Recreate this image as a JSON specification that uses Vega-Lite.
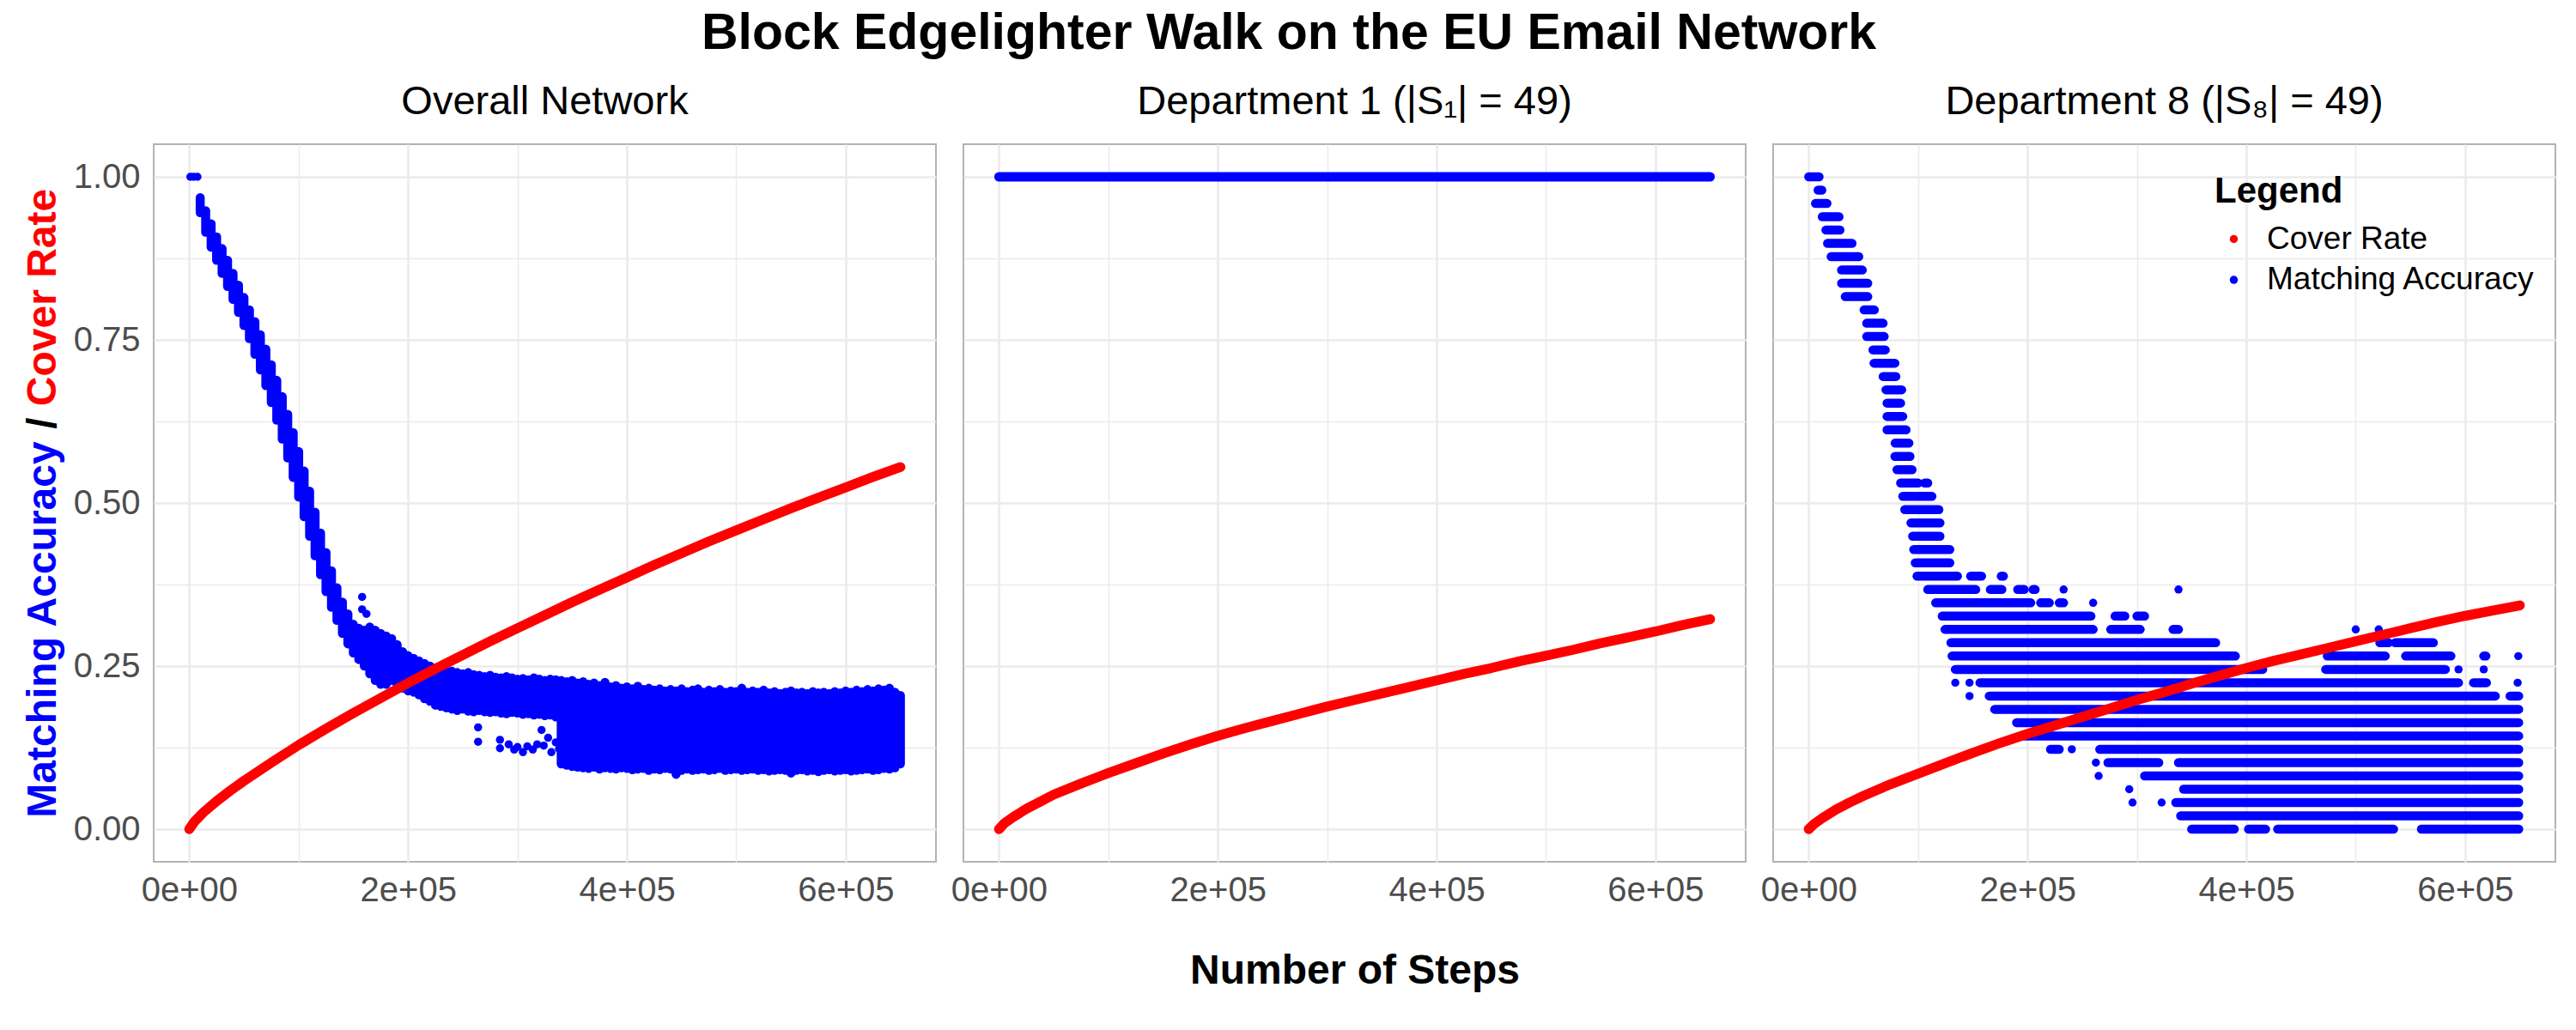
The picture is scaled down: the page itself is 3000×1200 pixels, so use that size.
{
  "$schema": "https://vega.github.io/schema/vega-lite/v6.json",
  "background": "white",
  "padding": {"left": 25, "top": 10, "right": 5, "bottom": 5},
  "title": {"text": "Block Edgelighter Walk on the EU Email Network", "fontSize": 59, "fontWeight": "bold", "font": "Liberation Sans", "color": "#000000", "anchor": "middle", "frame": "bounds", "baseline": "alphabetic", "offset": -22},
  "spacing": 15,
  "resolve": {"scale": {"color": "independent"}},
  "config": {
    "font": "Liberation Sans",
    "view": {"stroke": "#b3b3b3", "strokeWidth": 2},
    "axis": {"ticks": false, "tickSize": 0, "domain": false, "labelFontSize": 40, "labelColor": "#4d4d4d", "gridColor": "#ebebeb", "labelFlush": false, "labelOverlap": false, "labelBound": false, "labelFont": "Liberation Sans", "titleFont": "Liberation Sans"}
  },
  "datasets": {
    "redA": [
      {"x": 0, "y": 0, "s": "Cover Rate"}, {"x": 5000, "y": 0.012, "s": "Cover Rate"}, {"x": 12500, "y": 0.025, "s": "Cover Rate"}, {"x": 25000, "y": 0.043, "s": "Cover Rate"}, {"x": 37500, "y": 0.059, "s": "Cover Rate"}, {"x": 50000, "y": 0.074, "s": "Cover Rate"}, {"x": 75000, "y": 0.102, "s": "Cover Rate"}, {"x": 100000, "y": 0.129, "s": "Cover Rate"}, {"x": 125000, "y": 0.154, "s": "Cover Rate"}, {"x": 150000, "y": 0.178, "s": "Cover Rate"}, {"x": 175000, "y": 0.201, "s": "Cover Rate"}, {"x": 200000, "y": 0.224, "s": "Cover Rate"}, {"x": 225000, "y": 0.246, "s": "Cover Rate"}, {"x": 250000, "y": 0.267, "s": "Cover Rate"}, {"x": 275000, "y": 0.288, "s": "Cover Rate"}, {"x": 300000, "y": 0.308, "s": "Cover Rate"}, {"x": 325000, "y": 0.328, "s": "Cover Rate"}, {"x": 350000, "y": 0.348, "s": "Cover Rate"}, {"x": 375000, "y": 0.367, "s": "Cover Rate"}, {"x": 400000, "y": 0.386, "s": "Cover Rate"}, {"x": 425000, "y": 0.405, "s": "Cover Rate"}, {"x": 450000, "y": 0.423, "s": "Cover Rate"}, {"x": 475000, "y": 0.441, "s": "Cover Rate"}, {"x": 500000, "y": 0.458, "s": "Cover Rate"}, {"x": 525000, "y": 0.475, "s": "Cover Rate"}, {"x": 550000, "y": 0.492, "s": "Cover Rate"}, {"x": 575000, "y": 0.508, "s": "Cover Rate"}, {"x": 600000, "y": 0.524, "s": "Cover Rate"}, {"x": 625000, "y": 0.54, "s": "Cover Rate"}, {"x": 650000, "y": 0.555, "s": "Cover Rate"}
    ],
    "redB": [
      {"x": 0, "y": 0, "s": "Cover Rate"}, {"x": 5000, "y": 0.009, "s": "Cover Rate"}, {"x": 12500, "y": 0.018, "s": "Cover Rate"}, {"x": 25000, "y": 0.031, "s": "Cover Rate"}, {"x": 37500, "y": 0.042, "s": "Cover Rate"}, {"x": 50000, "y": 0.053, "s": "Cover Rate"}, {"x": 75000, "y": 0.07, "s": "Cover Rate"}, {"x": 100000, "y": 0.086, "s": "Cover Rate"}, {"x": 125000, "y": 0.101, "s": "Cover Rate"}, {"x": 150000, "y": 0.116, "s": "Cover Rate"}, {"x": 175000, "y": 0.13, "s": "Cover Rate"}, {"x": 200000, "y": 0.143, "s": "Cover Rate"}, {"x": 225000, "y": 0.155, "s": "Cover Rate"}, {"x": 250000, "y": 0.166, "s": "Cover Rate"}, {"x": 275000, "y": 0.177, "s": "Cover Rate"}, {"x": 300000, "y": 0.188, "s": "Cover Rate"}, {"x": 325000, "y": 0.198, "s": "Cover Rate"}, {"x": 350000, "y": 0.208, "s": "Cover Rate"}, {"x": 375000, "y": 0.218, "s": "Cover Rate"}, {"x": 400000, "y": 0.228, "s": "Cover Rate"}, {"x": 425000, "y": 0.238, "s": "Cover Rate"}, {"x": 450000, "y": 0.247, "s": "Cover Rate"}, {"x": 475000, "y": 0.257, "s": "Cover Rate"}, {"x": 500000, "y": 0.266, "s": "Cover Rate"}, {"x": 525000, "y": 0.275, "s": "Cover Rate"}, {"x": 550000, "y": 0.285, "s": "Cover Rate"}, {"x": 575000, "y": 0.294, "s": "Cover Rate"}, {"x": 600000, "y": 0.303, "s": "Cover Rate"}, {"x": 625000, "y": 0.313, "s": "Cover Rate"}, {"x": 650000, "y": 0.322, "s": "Cover Rate"}
    ],
    "redC": [
      {"x": 0, "y": 0, "s": "Cover Rate"}, {"x": 5000, "y": 0.008, "s": "Cover Rate"}, {"x": 12500, "y": 0.017, "s": "Cover Rate"}, {"x": 25000, "y": 0.03, "s": "Cover Rate"}, {"x": 37500, "y": 0.041, "s": "Cover Rate"}, {"x": 50000, "y": 0.051, "s": "Cover Rate"}, {"x": 75000, "y": 0.069, "s": "Cover Rate"}, {"x": 100000, "y": 0.085, "s": "Cover Rate"}, {"x": 125000, "y": 0.101, "s": "Cover Rate"}, {"x": 150000, "y": 0.117, "s": "Cover Rate"}, {"x": 175000, "y": 0.132, "s": "Cover Rate"}, {"x": 200000, "y": 0.146, "s": "Cover Rate"}, {"x": 225000, "y": 0.159, "s": "Cover Rate"}, {"x": 250000, "y": 0.172, "s": "Cover Rate"}, {"x": 275000, "y": 0.185, "s": "Cover Rate"}, {"x": 300000, "y": 0.198, "s": "Cover Rate"}, {"x": 325000, "y": 0.21, "s": "Cover Rate"}, {"x": 350000, "y": 0.223, "s": "Cover Rate"}, {"x": 375000, "y": 0.235, "s": "Cover Rate"}, {"x": 400000, "y": 0.247, "s": "Cover Rate"}, {"x": 425000, "y": 0.258, "s": "Cover Rate"}, {"x": 450000, "y": 0.268, "s": "Cover Rate"}, {"x": 475000, "y": 0.278, "s": "Cover Rate"}, {"x": 500000, "y": 0.288, "s": "Cover Rate"}, {"x": 525000, "y": 0.298, "s": "Cover Rate"}, {"x": 550000, "y": 0.308, "s": "Cover Rate"}, {"x": 575000, "y": 0.318, "s": "Cover Rate"}, {"x": 600000, "y": 0.327, "s": "Cover Rate"}, {"x": 625000, "y": 0.335, "s": "Cover Rate"}, {"x": 650000, "y": 0.343, "s": "Cover Rate"}
    ],
    "lineB": [
      {"x": 0, "y": 1, "s": "Matching Accuracy"}, {"x": 650000, "y": 1, "s": "Matching Accuracy"}
    ],
    "dotsA": [
      {"x": 1000, "y": 1, "s": "Matching Accuracy"}, {"x": 4000, "y": 1, "s": "Matching Accuracy"}, {"x": 7500, "y": 1, "s": "Matching Accuracy"},
      {"x": 158000, "y": 0.356, "s": "Matching Accuracy"}, {"x": 158000, "y": 0.337, "s": "Matching Accuracy"}, {"x": 162000, "y": 0.33, "s": "Matching Accuracy"},
      {"x": 264000, "y": 0.156, "s": "Matching Accuracy"}, {"x": 264000, "y": 0.134, "s": "Matching Accuracy"}, {"x": 284000, "y": 0.137, "s": "Matching Accuracy"}, {"x": 284000, "y": 0.124, "s": "Matching Accuracy"},
      {"x": 292000, "y": 0.13, "s": "Matching Accuracy"}, {"x": 297000, "y": 0.122, "s": "Matching Accuracy"}, {"x": 300000, "y": 0.126, "s": "Matching Accuracy"}, {"x": 305000, "y": 0.118, "s": "Matching Accuracy"}, {"x": 309000, "y": 0.127, "s": "Matching Accuracy"}, {"x": 314000, "y": 0.122, "s": "Matching Accuracy"}, {"x": 318000, "y": 0.13, "s": "Matching Accuracy"},
      {"x": 322000, "y": 0.152, "s": "Matching Accuracy"}, {"x": 324000, "y": 0.128, "s": "Matching Accuracy"}, {"x": 328000, "y": 0.14, "s": "Matching Accuracy"}, {"x": 331000, "y": 0.118, "s": "Matching Accuracy"}, {"x": 335000, "y": 0.133, "s": "Matching Accuracy"}, {"x": 338000, "y": 0.123, "s": "Matching Accuracy"}
    ],
    "bandA": [
      {"x": 10000, "lo": 0.945, "hi": 0.968, "s": "Matching Accuracy"}, {"x": 15000, "lo": 0.915, "hi": 0.948, "s": "Matching Accuracy"}, {"x": 20000, "lo": 0.892, "hi": 0.928, "s": "Matching Accuracy"}, {"x": 25000, "lo": 0.872, "hi": 0.908, "s": "Matching Accuracy"}, {"x": 30000, "lo": 0.852, "hi": 0.89, "s": "Matching Accuracy"}, {"x": 35000, "lo": 0.832, "hi": 0.872, "s": "Matching Accuracy"}, {"x": 40000, "lo": 0.812, "hi": 0.852, "s": "Matching Accuracy"}, {"x": 45000, "lo": 0.792, "hi": 0.834, "s": "Matching Accuracy"}, {"x": 50000, "lo": 0.772, "hi": 0.815, "s": "Matching Accuracy"}, {"x": 55000, "lo": 0.752, "hi": 0.796, "s": "Matching Accuracy"},
      {"x": 60000, "lo": 0.728, "hi": 0.778, "s": "Matching Accuracy"}, {"x": 65000, "lo": 0.704, "hi": 0.758, "s": "Matching Accuracy"}, {"x": 70000, "lo": 0.68, "hi": 0.736, "s": "Matching Accuracy"}, {"x": 75000, "lo": 0.654, "hi": 0.712, "s": "Matching Accuracy"}, {"x": 80000, "lo": 0.627, "hi": 0.688, "s": "Matching Accuracy"}, {"x": 85000, "lo": 0.598, "hi": 0.663, "s": "Matching Accuracy"}, {"x": 90000, "lo": 0.569, "hi": 0.636, "s": "Matching Accuracy"}, {"x": 95000, "lo": 0.539, "hi": 0.608, "s": "Matching Accuracy"}, {"x": 100000, "lo": 0.509, "hi": 0.579, "s": "Matching Accuracy"}, {"x": 105000, "lo": 0.479, "hi": 0.549, "s": "Matching Accuracy"},
      {"x": 110000, "lo": 0.449, "hi": 0.518, "s": "Matching Accuracy"}, {"x": 115000, "lo": 0.419, "hi": 0.486, "s": "Matching Accuracy"}, {"x": 120000, "lo": 0.39, "hi": 0.454, "s": "Matching Accuracy"}, {"x": 125000, "lo": 0.364, "hi": 0.424, "s": "Matching Accuracy"}, {"x": 130000, "lo": 0.34, "hi": 0.396, "s": "Matching Accuracy"}, {"x": 135000, "lo": 0.32, "hi": 0.37, "s": "Matching Accuracy"}, {"x": 140000, "lo": 0.3, "hi": 0.348, "s": "Matching Accuracy"}, {"x": 145000, "lo": 0.284, "hi": 0.33, "s": "Matching Accuracy"}, {"x": 150000, "lo": 0.27, "hi": 0.314, "s": "Matching Accuracy"}, {"x": 155000, "lo": 0.26, "hi": 0.308, "s": "Matching Accuracy"},
      {"x": 160000, "lo": 0.25, "hi": 0.305, "s": "Matching Accuracy"}, {"x": 165000, "lo": 0.238, "hi": 0.31, "s": "Matching Accuracy"}, {"x": 170000, "lo": 0.228, "hi": 0.305, "s": "Matching Accuracy"}, {"x": 175000, "lo": 0.222, "hi": 0.3, "s": "Matching Accuracy"}, {"x": 180000, "lo": 0.222, "hi": 0.296, "s": "Matching Accuracy"}, {"x": 185000, "lo": 0.228, "hi": 0.292, "s": "Matching Accuracy"}, {"x": 190000, "lo": 0.222, "hi": 0.283, "s": "Matching Accuracy"}, {"x": 195000, "lo": 0.216, "hi": 0.272, "s": "Matching Accuracy"}, {"x": 200000, "lo": 0.212, "hi": 0.266, "s": "Matching Accuracy"}, {"x": 205000, "lo": 0.21, "hi": 0.262, "s": "Matching Accuracy"},
      {"x": 210000, "lo": 0.206, "hi": 0.258, "s": "Matching Accuracy"}, {"x": 215000, "lo": 0.2, "hi": 0.254, "s": "Matching Accuracy"}, {"x": 220000, "lo": 0.196, "hi": 0.25, "s": "Matching Accuracy"}, {"x": 225000, "lo": 0.19, "hi": 0.247, "s": "Matching Accuracy"}, {"x": 230000, "lo": 0.188, "hi": 0.245, "s": "Matching Accuracy"}, {"x": 235000, "lo": 0.186, "hi": 0.243, "s": "Matching Accuracy"}, {"x": 240000, "lo": 0.184, "hi": 0.242, "s": "Matching Accuracy"}, {"x": 245000, "lo": 0.182, "hi": 0.24, "s": "Matching Accuracy"}, {"x": 250000, "lo": 0.184, "hi": 0.238, "s": "Matching Accuracy"}, {"x": 255000, "lo": 0.181, "hi": 0.24, "s": "Matching Accuracy"},
      {"x": 260000, "lo": 0.18, "hi": 0.237, "s": "Matching Accuracy"}, {"x": 265000, "lo": 0.182, "hi": 0.236, "s": "Matching Accuracy"}, {"x": 270000, "lo": 0.18, "hi": 0.234, "s": "Matching Accuracy"}, {"x": 275000, "lo": 0.179, "hi": 0.236, "s": "Matching Accuracy"}, {"x": 280000, "lo": 0.18, "hi": 0.233, "s": "Matching Accuracy"}, {"x": 285000, "lo": 0.178, "hi": 0.232, "s": "Matching Accuracy"}, {"x": 290000, "lo": 0.177, "hi": 0.234, "s": "Matching Accuracy"}, {"x": 295000, "lo": 0.179, "hi": 0.232, "s": "Matching Accuracy"}, {"x": 300000, "lo": 0.178, "hi": 0.23, "s": "Matching Accuracy"}, {"x": 305000, "lo": 0.176, "hi": 0.231, "s": "Matching Accuracy"},
      {"x": 310000, "lo": 0.177, "hi": 0.229, "s": "Matching Accuracy"}, {"x": 315000, "lo": 0.175, "hi": 0.232, "s": "Matching Accuracy"}, {"x": 320000, "lo": 0.176, "hi": 0.23, "s": "Matching Accuracy"}, {"x": 325000, "lo": 0.174, "hi": 0.228, "s": "Matching Accuracy"}, {"x": 330000, "lo": 0.175, "hi": 0.23, "s": "Matching Accuracy"}, {"x": 335000, "lo": 0.172, "hi": 0.229, "s": "Matching Accuracy"}, {"x": 340000, "lo": 0.1, "hi": 0.228, "s": "Matching Accuracy"}, {"x": 345000, "lo": 0.098, "hi": 0.226, "s": "Matching Accuracy"}, {"x": 350000, "lo": 0.096, "hi": 0.228, "s": "Matching Accuracy"}, {"x": 355000, "lo": 0.095, "hi": 0.224, "s": "Matching Accuracy"},
      {"x": 360000, "lo": 0.094, "hi": 0.226, "s": "Matching Accuracy"}, {"x": 365000, "lo": 0.093, "hi": 0.222, "s": "Matching Accuracy"}, {"x": 370000, "lo": 0.095, "hi": 0.224, "s": "Matching Accuracy"}, {"x": 375000, "lo": 0.092, "hi": 0.22, "s": "Matching Accuracy"}, {"x": 380000, "lo": 0.094, "hi": 0.225, "s": "Matching Accuracy"}, {"x": 385000, "lo": 0.093, "hi": 0.218, "s": "Matching Accuracy"}, {"x": 390000, "lo": 0.092, "hi": 0.22, "s": "Matching Accuracy"}, {"x": 395000, "lo": 0.094, "hi": 0.216, "s": "Matching Accuracy"}, {"x": 400000, "lo": 0.093, "hi": 0.218, "s": "Matching Accuracy"}, {"x": 405000, "lo": 0.091, "hi": 0.215, "s": "Matching Accuracy"},
      {"x": 410000, "lo": 0.092, "hi": 0.219, "s": "Matching Accuracy"}, {"x": 415000, "lo": 0.093, "hi": 0.214, "s": "Matching Accuracy"}, {"x": 420000, "lo": 0.09, "hi": 0.216, "s": "Matching Accuracy"}, {"x": 425000, "lo": 0.092, "hi": 0.213, "s": "Matching Accuracy"}, {"x": 430000, "lo": 0.091, "hi": 0.215, "s": "Matching Accuracy"}, {"x": 435000, "lo": 0.093, "hi": 0.212, "s": "Matching Accuracy"}, {"x": 440000, "lo": 0.092, "hi": 0.214, "s": "Matching Accuracy"}, {"x": 445000, "lo": 0.084, "hi": 0.212, "s": "Matching Accuracy"}, {"x": 450000, "lo": 0.09, "hi": 0.215, "s": "Matching Accuracy"}, {"x": 455000, "lo": 0.092, "hi": 0.211, "s": "Matching Accuracy"},
      {"x": 460000, "lo": 0.09, "hi": 0.213, "s": "Matching Accuracy"}, {"x": 465000, "lo": 0.091, "hi": 0.215, "s": "Matching Accuracy"}, {"x": 470000, "lo": 0.092, "hi": 0.21, "s": "Matching Accuracy"}, {"x": 475000, "lo": 0.09, "hi": 0.213, "s": "Matching Accuracy"}, {"x": 480000, "lo": 0.091, "hi": 0.211, "s": "Matching Accuracy"}, {"x": 485000, "lo": 0.093, "hi": 0.214, "s": "Matching Accuracy"}, {"x": 490000, "lo": 0.09, "hi": 0.21, "s": "Matching Accuracy"}, {"x": 495000, "lo": 0.091, "hi": 0.212, "s": "Matching Accuracy"}, {"x": 500000, "lo": 0.092, "hi": 0.211, "s": "Matching Accuracy"}, {"x": 505000, "lo": 0.09, "hi": 0.216, "s": "Matching Accuracy"},
      {"x": 510000, "lo": 0.091, "hi": 0.21, "s": "Matching Accuracy"}, {"x": 515000, "lo": 0.092, "hi": 0.212, "s": "Matching Accuracy"}, {"x": 520000, "lo": 0.09, "hi": 0.21, "s": "Matching Accuracy"}, {"x": 525000, "lo": 0.091, "hi": 0.213, "s": "Matching Accuracy"}, {"x": 530000, "lo": 0.089, "hi": 0.209, "s": "Matching Accuracy"}, {"x": 535000, "lo": 0.09, "hi": 0.211, "s": "Matching Accuracy"}, {"x": 540000, "lo": 0.091, "hi": 0.208, "s": "Matching Accuracy"}, {"x": 545000, "lo": 0.09, "hi": 0.21, "s": "Matching Accuracy"}, {"x": 550000, "lo": 0.086, "hi": 0.212, "s": "Matching Accuracy"}, {"x": 555000, "lo": 0.09, "hi": 0.209, "s": "Matching Accuracy"},
      {"x": 560000, "lo": 0.091, "hi": 0.21, "s": "Matching Accuracy"}, {"x": 565000, "lo": 0.089, "hi": 0.208, "s": "Matching Accuracy"}, {"x": 570000, "lo": 0.09, "hi": 0.211, "s": "Matching Accuracy"}, {"x": 575000, "lo": 0.088, "hi": 0.209, "s": "Matching Accuracy"}, {"x": 580000, "lo": 0.09, "hi": 0.21, "s": "Matching Accuracy"}, {"x": 585000, "lo": 0.091, "hi": 0.208, "s": "Matching Accuracy"}, {"x": 590000, "lo": 0.089, "hi": 0.211, "s": "Matching Accuracy"}, {"x": 595000, "lo": 0.09, "hi": 0.209, "s": "Matching Accuracy"}, {"x": 600000, "lo": 0.091, "hi": 0.212, "s": "Matching Accuracy"}, {"x": 605000, "lo": 0.089, "hi": 0.21, "s": "Matching Accuracy"},
      {"x": 610000, "lo": 0.09, "hi": 0.213, "s": "Matching Accuracy"}, {"x": 615000, "lo": 0.091, "hi": 0.211, "s": "Matching Accuracy"}, {"x": 620000, "lo": 0.092, "hi": 0.214, "s": "Matching Accuracy"}, {"x": 625000, "lo": 0.09, "hi": 0.212, "s": "Matching Accuracy"}, {"x": 630000, "lo": 0.091, "hi": 0.215, "s": "Matching Accuracy"}, {"x": 635000, "lo": 0.093, "hi": 0.213, "s": "Matching Accuracy"}, {"x": 640000, "lo": 0.092, "hi": 0.216, "s": "Matching Accuracy"}, {"x": 645000, "lo": 0.094, "hi": 0.21, "s": "Matching Accuracy"}, {"x": 650000, "lo": 0.1, "hi": 0.205, "s": "Matching Accuracy"}
    ],
    "segC": [
      {"x": 0, "x2": 9500, "y": 1, "s": "Matching Accuracy"}, {"x": 8600, "x2": 12000, "y": 0.9796, "s": "Matching Accuracy"}, {"x": 6200, "x2": 16700, "y": 0.9592, "s": "Matching Accuracy"}, {"x": 12400, "x2": 27700, "y": 0.9388, "s": "Matching Accuracy"}, {"x": 15700, "x2": 28600, "y": 0.9184, "s": "Matching Accuracy"}, {"x": 17200, "x2": 39600, "y": 0.898, "s": "Matching Accuracy"}, {"x": 20500, "x2": 45800, "y": 0.8776, "s": "Matching Accuracy"}, {"x": 30000, "x2": 49000, "y": 0.8571, "s": "Matching Accuracy"}, {"x": 30000, "x2": 54000, "y": 0.8367, "s": "Matching Accuracy"}, {"x": 33400, "x2": 54000, "y": 0.8163, "s": "Matching Accuracy"},
      {"x": 50600, "x2": 60000, "y": 0.7959, "s": "Matching Accuracy"}, {"x": 53000, "x2": 68000, "y": 0.7755, "s": "Matching Accuracy"}, {"x": 53000, "x2": 69000, "y": 0.7551, "s": "Matching Accuracy"}, {"x": 58700, "x2": 70000, "y": 0.7347, "s": "Matching Accuracy"}, {"x": 59700, "x2": 78800, "y": 0.7143, "s": "Matching Accuracy"}, {"x": 68000, "x2": 79700, "y": 0.6939, "s": "Matching Accuracy"}, {"x": 70600, "x2": 85000, "y": 0.6735, "s": "Matching Accuracy"}, {"x": 71600, "x2": 84000, "y": 0.6531, "s": "Matching Accuracy"}, {"x": 71600, "x2": 86000, "y": 0.6327, "s": "Matching Accuracy"}, {"x": 71600, "x2": 89000, "y": 0.6122, "s": "Matching Accuracy"},
      {"x": 79000, "x2": 91600, "y": 0.5918, "s": "Matching Accuracy"}, {"x": 78800, "x2": 92600, "y": 0.5714, "s": "Matching Accuracy"}, {"x": 80700, "x2": 94500, "y": 0.551, "s": "Matching Accuracy"}, {"x": 84000, "x2": 100000, "y": 0.5306, "s": "Matching Accuracy"}, {"x": 106000, "x2": 108800, "y": 0.5306, "s": "Matching Accuracy"}, {"x": 86000, "x2": 112600, "y": 0.5102, "s": "Matching Accuracy"}, {"x": 87800, "x2": 119000, "y": 0.4898, "s": "Matching Accuracy"}, {"x": 93500, "x2": 120000, "y": 0.4694, "s": "Matching Accuracy"}, {"x": 95000, "x2": 120000, "y": 0.449, "s": "Matching Accuracy"}, {"x": 96000, "x2": 129000, "y": 0.4286, "s": "Matching Accuracy"},
      {"x": 97400, "x2": 129000, "y": 0.4082, "s": "Matching Accuracy"}, {"x": 99000, "x2": 136000, "y": 0.3878, "s": "Matching Accuracy"}, {"x": 148000, "x2": 158000, "y": 0.3878, "s": "Matching Accuracy"}, {"x": 176000, "x2": 178000, "y": 0.3878, "s": "Matching Accuracy"}, {"x": 108800, "x2": 152700, "y": 0.3673, "s": "Matching Accuracy"}, {"x": 166000, "x2": 176600, "y": 0.3673, "s": "Matching Accuracy"}, {"x": 191000, "x2": 197000, "y": 0.3673, "s": "Matching Accuracy"}, {"x": 205000, "x2": 207000, "y": 0.3673, "s": "Matching Accuracy"}, {"x": 116000, "x2": 203000, "y": 0.3469, "s": "Matching Accuracy"}, {"x": 212000, "x2": 220000, "y": 0.3469, "s": "Matching Accuracy"},
      {"x": 229000, "x2": 233000, "y": 0.3469, "s": "Matching Accuracy"}, {"x": 122000, "x2": 258000, "y": 0.3265, "s": "Matching Accuracy"}, {"x": 280000, "x2": 289000, "y": 0.3265, "s": "Matching Accuracy"}, {"x": 300000, "x2": 307000, "y": 0.3265, "s": "Matching Accuracy"}, {"x": 124600, "x2": 260000, "y": 0.3061, "s": "Matching Accuracy"}, {"x": 276000, "x2": 303000, "y": 0.3061, "s": "Matching Accuracy"}, {"x": 333000, "x2": 338000, "y": 0.3061, "s": "Matching Accuracy"}, {"x": 130000, "x2": 372000, "y": 0.2857, "s": "Matching Accuracy"}, {"x": 522000, "x2": 530000, "y": 0.2857, "s": "Matching Accuracy"}, {"x": 536000, "x2": 571000, "y": 0.2857, "s": "Matching Accuracy"},
      {"x": 131000, "x2": 390000, "y": 0.2653, "s": "Matching Accuracy"}, {"x": 474000, "x2": 527000, "y": 0.2653, "s": "Matching Accuracy"}, {"x": 545600, "x2": 587000, "y": 0.2653, "s": "Matching Accuracy"}, {"x": 617000, "x2": 619000, "y": 0.2653, "s": "Matching Accuracy"}, {"x": 134000, "x2": 415000, "y": 0.2449, "s": "Matching Accuracy"}, {"x": 472500, "x2": 582000, "y": 0.2449, "s": "Matching Accuracy"}, {"x": 156500, "x2": 594000, "y": 0.2245, "s": "Matching Accuracy"}, {"x": 607600, "x2": 619500, "y": 0.2245, "s": "Matching Accuracy"}, {"x": 165000, "x2": 627600, "y": 0.2041, "s": "Matching Accuracy"}, {"x": 641000, "x2": 649000, "y": 0.2041, "s": "Matching Accuracy"},
      {"x": 170000, "x2": 649000, "y": 0.1837, "s": "Matching Accuracy"}, {"x": 190000, "x2": 649000, "y": 0.1633, "s": "Matching Accuracy"}, {"x": 195000, "x2": 649000, "y": 0.1429, "s": "Matching Accuracy"}, {"x": 221000, "x2": 229000, "y": 0.1224, "s": "Matching Accuracy"}, {"x": 266000, "x2": 649000, "y": 0.1224, "s": "Matching Accuracy"}, {"x": 273500, "x2": 320000, "y": 0.102, "s": "Matching Accuracy"}, {"x": 338000, "x2": 649000, "y": 0.102, "s": "Matching Accuracy"}, {"x": 307000, "x2": 649000, "y": 0.0816, "s": "Matching Accuracy"}, {"x": 342700, "x2": 649000, "y": 0.0612, "s": "Matching Accuracy"}, {"x": 335500, "x2": 649000, "y": 0.0408, "s": "Matching Accuracy"},
      {"x": 340000, "x2": 649000, "y": 0.0204, "s": "Matching Accuracy"}, {"x": 350000, "x2": 389000, "y": 0, "s": "Matching Accuracy"}, {"x": 402000, "x2": 417600, "y": 0, "s": "Matching Accuracy"}, {"x": 428600, "x2": 534600, "y": 0, "s": "Matching Accuracy"}, {"x": 560000, "x2": 649000, "y": 0, "s": "Matching Accuracy"}
    ],
    "dotsC": [
      {"x": 233000, "y": 0.3673, "s": "Matching Accuracy"}, {"x": 338000, "y": 0.3673, "s": "Matching Accuracy"}, {"x": 260000, "y": 0.3469, "s": "Matching Accuracy"}, {"x": 500000, "y": 0.3061, "s": "Matching Accuracy"}, {"x": 521000, "y": 0.3061, "s": "Matching Accuracy"}, {"x": 648600, "y": 0.2653, "s": "Matching Accuracy"}, {"x": 594000, "y": 0.2449, "s": "Matching Accuracy"}, {"x": 617000, "y": 0.2449, "s": "Matching Accuracy"}, {"x": 134000, "y": 0.2245, "s": "Matching Accuracy"}, {"x": 147000, "y": 0.2245, "s": "Matching Accuracy"}, {"x": 648000, "y": 0.2245, "s": "Matching Accuracy"}, {"x": 147000, "y": 0.2041, "s": "Matching Accuracy"}, {"x": 240500, "y": 0.1224, "s": "Matching Accuracy"}, {"x": 262500, "y": 0.102, "s": "Matching Accuracy"}, {"x": 265000, "y": 0.0816, "s": "Matching Accuracy"}, {"x": 293000, "y": 0.0612, "s": "Matching Accuracy"}, {"x": 296000, "y": 0.0408, "s": "Matching Accuracy"}, {"x": 322600, "y": 0.0408, "s": "Matching Accuracy"}
    ]
  },
  "hconcat": [
    {
      "width": 911, "height": 836,
      "title": {"text": "Overall Network", "fontSize": 47, "fontWeight": "normal", "font": "Liberation Sans", "color": "#000000", "baseline": "alphabetic", "offset": -12, "anchor": "middle", "frame": "group"},
      "encoding": {
        "x": {"field": "x", "type": "quantitative", "scale": {"domain": [-32500, 682500], "nice": false, "zero": false},
          "axis": {"values": [0, 100000, 200000, 300000, 400000, 500000, 600000], "labelExpr": "datum.value === 0 ? '0e+00' : (datum.value % 200000 === 0 ? (datum.value / 100000) + 'e+05' : '')", "gridWidth": {"condition": {"test": "datum.value % 200000 === 0", "value": 2.6}, "value": 1.5}, "labelPadding": 13, "title": null}}
      },
      "layer": [
        {
          "data": {"name": "bandA"},
          "mark": {"type": "rule", "strokeWidth": 10.5, "strokeCap": "round"},
          "encoding": {
            "y": {"field": "lo", "type": "quantitative", "scale": {"domain": [-0.05, 1.05], "nice": false, "zero": false},
              "axis": {"orient": "left", "values": [0, 0.125, 0.25, 0.375, 0.5, 0.625, 0.75, 0.875, 1], "labelExpr": "(datum.value * 4) % 1 === 0 ? format(datum.value, '.2f') : ''", "gridWidth": {"condition": {"test": "(datum.value * 4) % 1 === 0", "value": 2.6}, "value": 1.5}, "labelPadding": 16,
                "title": "Matching Accuracy", "titleColor": "#0000ff", "titleFontSize": 48, "titleFontWeight": "bold", "titleAngle": 270, "titleAlign": "center", "titleBaseline": "alphabetic", "titleX": -115, "titleY": 565}},
            "y2": {"field": "hi"},
            "color": {"field": "s", "type": "nominal", "scale": {"domain": ["Cover Rate", "Matching Accuracy"], "range": ["#ff0000", "#0000ff"]}, "legend": null}
          }
        },
        {
          "data": {"name": "dotsA"},
          "mark": {"type": "circle", "size": 90, "opacity": 1},
          "encoding": {
            "y": {"field": "y", "type": "quantitative", "scale": {"domain": [-0.05, 1.05], "nice": false, "zero": false},
              "axis": {"orient": "left", "labels": false, "grid": false, "title": "/", "titleColor": "#000000", "titleFontSize": 48, "titleFontWeight": "bold", "titleAngle": 270, "titleAlign": "center", "titleBaseline": "alphabetic", "titleX": -115, "titleY": 324.5}},
            "color": {"field": "s", "type": "nominal", "scale": {"domain": ["Cover Rate", "Matching Accuracy"], "range": ["#ff0000", "#0000ff"]}, "legend": null}
          }
        },
        {
          "data": {"name": "redA"},
          "mark": {"type": "line", "strokeWidth": 11.5, "strokeCap": "round", "strokeJoin": "round"},
          "encoding": {
            "y": {"field": "y", "type": "quantitative", "scale": {"domain": [-0.05, 1.05], "nice": false, "zero": false},
              "axis": {"orient": "left", "labels": false, "grid": false, "title": "Cover Rate", "titleColor": "#ff0000", "titleFontSize": 48, "titleFontWeight": "bold", "titleAngle": 270, "titleAlign": "center", "titleBaseline": "alphabetic", "titleX": -115, "titleY": 178}},
            "color": {"field": "s", "type": "nominal", "scale": {"domain": ["Cover Rate", "Matching Accuracy"], "range": ["#ff0000", "#0000ff"]}, "legend": null}
          }
        }
      ],
      "resolve": {"axis": {"y": "independent"}}
    },
    {
      "width": 911, "height": 836,
      "title": {"text": "Department 1 (|S₁| = 49)", "fontSize": 47, "fontWeight": "normal", "font": "Liberation Sans", "color": "#000000", "baseline": "alphabetic", "offset": -12, "anchor": "middle", "frame": "group"},
      "encoding": {
        "x": {"field": "x", "type": "quantitative", "scale": {"domain": [-32500, 682500], "nice": false, "zero": false},
          "axis": {"values": [0, 100000, 200000, 300000, 400000, 500000, 600000], "labelExpr": "datum.value === 0 ? '0e+00' : (datum.value % 200000 === 0 ? (datum.value / 100000) + 'e+05' : '')", "gridWidth": {"condition": {"test": "datum.value % 200000 === 0", "value": 2.6}, "value": 1.5}, "labelPadding": 13,
            "title": "Number of Steps", "titleFontSize": 48, "titleFontWeight": "bold", "titleColor": "#000000", "titlePadding": 50}},
        "y": {"field": "y", "type": "quantitative", "scale": {"domain": [-0.05, 1.05], "nice": false, "zero": false},
          "axis": {"values": [0, 0.125, 0.25, 0.375, 0.5, 0.625, 0.75, 0.875, 1], "labels": false, "gridWidth": {"condition": {"test": "(datum.value * 4) % 1 === 0", "value": 2.6}, "value": 1.5}, "title": null}},
        "color": {"field": "s", "type": "nominal", "scale": {"domain": ["Cover Rate", "Matching Accuracy"], "range": ["#ff0000", "#0000ff"]}, "legend": null}
      },
      "layer": [
        {"data": {"name": "lineB"}, "mark": {"type": "line", "strokeWidth": 11, "strokeCap": "round"}},
        {"data": {"name": "redB"}, "mark": {"type": "line", "strokeWidth": 11.5, "strokeCap": "round", "strokeJoin": "round"}}
      ]
    },
    {
      "width": 911, "height": 836,
      "title": {"text": "Department 8 (|S₈| = 49)", "fontSize": 47, "fontWeight": "normal", "font": "Liberation Sans", "color": "#000000", "baseline": "alphabetic", "offset": -12, "anchor": "middle", "frame": "group"},
      "encoding": {
        "x": {"field": "x", "type": "quantitative", "scale": {"domain": [-32500, 682500], "nice": false, "zero": false},
          "axis": {"values": [0, 100000, 200000, 300000, 400000, 500000, 600000], "labelExpr": "datum.value === 0 ? '0e+00' : (datum.value % 200000 === 0 ? (datum.value / 100000) + 'e+05' : '')", "gridWidth": {"condition": {"test": "datum.value % 200000 === 0", "value": 2.6}, "value": 1.5}, "labelPadding": 13, "title": null}},
        "y": {"field": "y", "type": "quantitative", "scale": {"domain": [-0.05, 1.05], "nice": false, "zero": false},
          "axis": {"values": [0, 0.125, 0.25, 0.375, 0.5, 0.625, 0.75, 0.875, 1], "labels": false, "gridWidth": {"condition": {"test": "(datum.value * 4) % 1 === 0", "value": 2.6}, "value": 1.5}, "title": null}}
      },
      "layer": [
        {"data": {"name": "segC"}, "mark": {"type": "rule", "strokeWidth": 10.5, "strokeCap": "round", "color": "#0000ff"},
          "encoding": {"x2": {"field": "x2"}}},
        {"data": {"name": "dotsC"}, "mark": {"type": "circle", "size": 90, "opacity": 1},
          "encoding": {"color": {"field": "s", "type": "nominal", "scale": {"domain": ["Cover Rate", "Matching Accuracy"], "range": ["#ff0000", "#0000ff"]},
            "legend": {"title": "Legend", "orient": "none", "legendX": 514, "legendY": 35, "padding": 0, "titleFontSize": 42, "titleFontWeight": "bold", "titleColor": "#000000", "titleFont": "Liberation Sans", "titlePadding": 15, "labelFontSize": 37, "labelColor": "#000000", "labelFont": "Liberation Sans", "labelLimit": 1000, "symbolType": "circle", "symbolSize": 90, "symbolOffset": 4, "symbolStrokeWidth": 0, "labelOffset": 20, "rowPadding": 9.6}}}},
        {"data": {"name": "redC"}, "mark": {"type": "line", "strokeWidth": 11.5, "strokeCap": "round", "strokeJoin": "round", "color": "#ff0000"}}
      ]
    }
  ]
}
